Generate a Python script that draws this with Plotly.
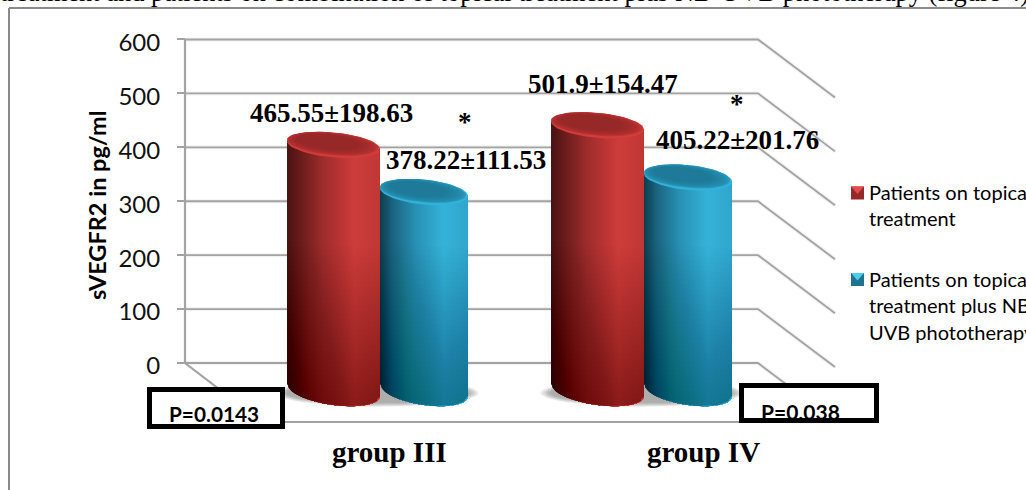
import math
import plotly.graph_objects as go

# Chart data
groups = ["group III", "group IV"]
series_names = ["Patients on topical treatment",
                "Patients on topical treatment plus NB-UVB phototherapy"]
means = [[465.55, 501.9], [378.22, 405.22]]
sds = [[198.63, 154.47], [111.53, 201.76]]
p_values = ["P=0.0143", "P=0.038"]
y_ticks = [0, 100, 200, 300, 400, 500, 600]
y_title = "sVEGFR2 in pg/ml"
caption = "treatment and patients on combination of topical treatment plus NB-UVB phototherapy (figure 4)"

# Page geometry: the x axis runs in page pixels, the y axis in pg/ml
W, H = 1026, 490
Y0_PX, SCALE = 363.0, 0.5392


def yv(px):
    return (Y0_PX - px) / SCALE


def dy(px):
    return px / SCALE


WALL_L, WALL_R, DEPTH_X, DEPTH_Y = 185, 758, 77, 58
BAR_BASE = yv(396)
GROUP_LEFT = [287, 551]
BAR_WIDTH = [93, 88]
GREY = "#a3a3a3"

RAMPS = [
    [(0, (74, 18, 18)), (.12, (100, 26, 26)), (.38, (158, 44, 44)), (.72, (205, 60, 58)), (1, (192, 55, 53))],
    [(0, (14, 62, 80)), (.14, (26, 100, 128)), (.4, (40, 145, 180)), (.72, (53, 178, 216)), (1, (48, 165, 203))],
]
TOP_COLORS = [
    {"rim": (210, 60, 58), "outer": (190, 52, 50), "inner": (150, 40, 40)},
    {"rim": (50, 178, 216), "outer": (42, 152, 188), "inner": (30, 122, 152)},
]

traces = []


def rgb(c):
    return "rgb(%d,%d,%d)" % tuple(round(v) for v in c)


def ramp(stops, u):
    for (a, ca), (b, cb) in zip(stops, stops[1:]):
        if u <= b:
            t = (u - a) / (b - a)
            return [ca[i] + (cb[i] - ca[i]) * t for i in range(3)]
    return stops[-1][1]


def mix(a, b, t):
    return [a[i] + (b[i] - a[i]) * t for i in range(3)]


def add_poly(xs, ys, color):
    traces.append(go.Scatter(x=xs, y=ys, mode="lines", fill="toself", fillcolor=color,
                             line=dict(width=0), hoverinfo="skip", showlegend=False))


def add_line(xs, ys, width=2, color=GREY):
    traces.append(go.Scatter(x=xs, y=ys, mode="lines", line=dict(color=color, width=width),
                             hoverinfo="skip", showlegend=False))


def ellipse(cx, cy, a, b, tilt, n=60):
    xs, ys = [], []
    for i in range(n + 1):
        t = 2 * math.pi * i / n
        xs.append(cx + a * math.cos(t))
        ys.append(cy + dy(b * math.sin(t)) * -1 - dy(tilt * math.cos(t)))
    return xs, ys


def body_outline(cx, a, y_top, xa, xb, n=20):
    """Side of a cylinder between two x positions, with its curved foot."""
    xs, tops, bots = [], [], []
    for i in range(n + 1):
        x = xa + (xb - xa) * i / n
        u = max(min((x - cx) / a, 1), -1)
        xs.append(x)
        tops.append(y_top - dy(4 * u))
        bots.append(yv(390) - dy(6 * u) - dy(15 * math.sqrt(1 - u * u)))
    return xs + xs[::-1], bots + tops[::-1]


def draw_cylinder(series, group):
    value = means[series][group]
    left = GROUP_LEFT[group] + (BAR_WIDTH[0] if series else 0)
    width = BAR_WIDTH[series]
    a = width / 2
    cx = left + a
    y_top = BAR_BASE + value

    # horizontal shading, painted left to right
    for k in range(width):
        xs, ys = body_outline(cx, a, y_top, left + k, left + width)
        add_poly(xs, ys, rgb(ramp(RAMPS[series], k / width)))

    # the lower part of the body falls into shade
    levels = 32
    start = yv(245)
    stop = yv(395)
    for i in range(levels):
        level = min(start + (stop - start) * i / (levels - 1), y_top)
        xs, ys = body_outline(cx, a, level, left, left + width)
        add_poly(xs, ys, "rgba(0,0,0,0.009)")

    # top face: light rim around a darker centre
    tc = TOP_COLORS[series]
    xs, ys = ellipse(cx, y_top, a, 12.5, 4)
    add_poly(xs, ys, rgb(tc["rim"]))
    steps = 10
    for i in range(steps):
        t = i / (steps - 1)
        xs, ys = ellipse(cx - 1 - 5 * t, y_top + dy(1.2 + 1.8 * t), a - 1 - 15 * t, 11.4 - 4.5 * t, 4 - t)
        add_poly(xs, ys, rgb(mix(tc["outer"], tc["inner"], t ** 0.55)))


# back wall, side wall and floor
for v in y_ticks:
    add_line([WALL_L, WALL_R, WALL_R + DEPTH_X], [v, v, v - dy(DEPTH_Y)], 4, "rgba(150,150,150,0.12)")
    add_line([WALL_L, WALL_R, WALL_R + DEPTH_X], [v, v, v - dy(DEPTH_Y)], 1.8)
add_line([WALL_L, WALL_L, WALL_L + DEPTH_X, WALL_R + DEPTH_X],
         [y_ticks[-1], 0, -dy(DEPTH_Y + 1), -dy(DEPTH_Y + 1)], 2.2)

# contact shadows on the floor
for group in range(len(groups)):
    left = GROUP_LEFT[group]
    total = BAR_WIDTH[0] + BAR_WIDTH[1]
    for i in range(9):
        xs, ys = ellipse(left + total / 2, yv(393), total / 2 + 11 - i * 1.3, 14 - i * 0.5, 0)
        add_poly(xs, ys, "rgba(70,70,70,0.06)")

# red cylinders stand behind the blue ones at their shared edge
for s in (0, 1):
    for g in range(len(groups)):
        draw_cylinder(s, g)

# legend keys
LEGEND_KEYS = [(857.5, 193), (857.5, 279.5)]
KEY_COLORS = [((150, 40, 40), (226, 76, 74)), ((30, 115, 145), (80, 205, 235))]
for (kx, ky), (dark, light) in zip(LEGEND_KEYS, KEY_COLORS):
    add_poly([kx - 6.5, kx + 6.5, kx + 6.5, kx - 6.5, kx - 6.5],
             [yv(ky - 6.5), yv(ky - 6.5), yv(ky + 6.5), yv(ky + 6.5), yv(ky - 6.5)], rgb(dark))
    add_poly([kx - 6.5, kx + 6.5, kx, kx - 6.5],
             [yv(ky - 6.5), yv(ky - 6.5), yv(ky + 1), yv(ky - 6.5)], rgb(light))

fig = go.Figure(traces)

SERIF = "Liberation Serif"
SANS = "Lato"
BLACK = "#000000"


def note(x, y_px, text, family, size, bold=True, xanchor="center", angle=0, color=BLACK):
    fig.add_annotation(x=x, y=yv(y_px), xref="x", yref="y", text=f"<b>{text}</b>" if bold else text,
                       showarrow=False, xanchor=xanchor, yanchor="middle", textangle=angle,
                       font=dict(family=family, size=size, color=color))


# value labels and significance marks
LABEL_POS = [[(331, 113), (603, 84)], [(466, 160), (737, 140)]]
for s, row in enumerate(LABEL_POS):
    for g, (lx, ly) in enumerate(row):
        note(lx, ly, f"{means[s][g]}±{sds[s][g]}", SERIF, 27)
note(465, 122, "*", SERIF, 27)
note(737, 104, "*", SERIF, 27)

# category labels
GROUP_LABEL_X = [389.5, 703.5]
for lx, name in zip(GROUP_LABEL_X, groups):
    note(lx, 452, name, SERIF, 29)

note(97, 205, y_title, SANS, 23.5, angle=-90)

# running text above the frame, cut by the page top
fig.add_annotation(x=0, y=1 + 8 / H, xref="paper", yref="paper", text=caption, showarrow=False,
                   xanchor="left", yanchor="middle", xshift=-2,
                   font=dict(family=SERIF, size=26.4, color=BLACK))

# legend text runs past the page edge
LEGEND_LINES = [(867, 192, "Patients on topical"), (867, 218, "treatment"),
                (867, 279, "Patients on topical"), (867, 305, "treatment plus NB-"),
                (867, 332, "UVB phototherapy")]
for lx, ly, t in LEGEND_LINES:
    note(lx, ly, t, SANS, 20, bold=False, xanchor="left")

# P-value boxes and the frame around the figure
BOXES = [(149.5, 389.5, 282.5, 426.5), (741.5, 385.5, 876.5, 420.5)]
for x0, py0, x1, py1 in BOXES:
    fig.add_shape(type="rect", x0=x0, x1=x1, y0=yv(py0), y1=yv(py1),
                  line=dict(color=BLACK, width=5), fillcolor="white", layer="above")
note(214, 413, p_values[0], SANS, 20.8)
note(800, 411, p_values[1], SANS, 21)

fig.add_shape(type="line", x0=9, x1=W, y0=yv(8), y1=yv(8), line=dict(color="#8a8a8a", width=2))
fig.add_shape(type="line", x0=9, x1=9, y0=yv(8), y1=yv(H), line=dict(color="#8a8a8a", width=2))

fig.update_layout(
    width=W, height=H, autosize=False,
    margin=dict(l=0, r=0, t=0, b=0),
    paper_bgcolor="white", plot_bgcolor="white",
    showlegend=False,
    xaxis=dict(range=[0, W], visible=False, domain=[0, 1], fixedrange=True),
    yaxis=dict(range=[yv(H), yv(0)], domain=[0, 1], anchor="free", position=WALL_L / W,
               tickmode="array", tickvals=y_ticks, ticks="outside", ticklen=8, tickwidth=2,
               tickcolor=GREY, showgrid=False, zeroline=False, showline=False,
               ticklabelstandoff=12, ticklabelshift=3,
               tickfont=dict(family=SANS, size=24, color="#111111"), fixedrange=True),
)

fig.write_html("out.html")
